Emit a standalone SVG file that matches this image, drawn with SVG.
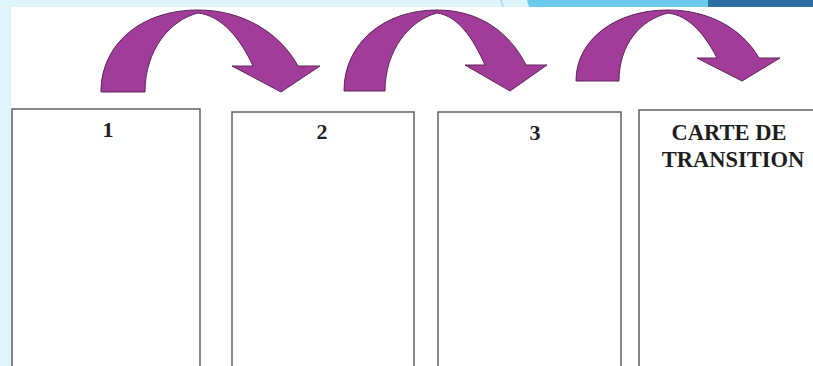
<svg xmlns="http://www.w3.org/2000/svg" width="813" height="366" viewBox="0 0 813 366">
<style>
.card{fill:#ffffff;stroke:#5f5f5f;stroke-width:1.5}
.lbl{font-family:"Liberation Serif","Times New Roman",serif;font-weight:bold;fill:#1e1e1e;text-anchor:middle}
.arrow{fill:#a23c9a;stroke:#5e2558;stroke-width:1;stroke-linejoin:round}
</style>
<rect x="0" y="0" width="813" height="366" fill="#dff4fb"/>
<rect x="11" y="7" width="802" height="359" fill="#ffffff"/>
<polygon points="527,0 708,0 708,7 529,7" fill="#6ccbec"/>
<rect x="708" y="0" width="105" height="7" fill="#2d70a1"/>
<line x1="501" y1="0" x2="503" y2="7" stroke="#9fd9ef" stroke-width="1.5"/>
<g id="box1"><rect class="card" x="12" y="109" width="188" height="270"/><text class="lbl" x="108" y="137" font-size="22">1</text></g>
<g id="box2"><rect class="card" x="232" y="112" width="182" height="270"/><text class="lbl" x="322" y="139" font-size="22">2</text></g>
<g id="box3"><rect class="card" x="438" y="112" width="183" height="270"/><text class="lbl" x="535" y="140" font-size="22">3</text></g>
<g id="box4"><rect class="card" x="639" y="110" width="190" height="270"/><text class="lbl" x="729" y="140" font-size="22.5">CARTE DE</text><text class="lbl" x="733" y="167" font-size="22.5">TRANSITION</text></g>
<g id="connectors">
<path class="arrow" d="M101,92 C101,45 140,10 198,10 C243,10 280,33 298,66 L320,66 L281,92 L232,66 L253,66 C240,38 222,16 198,13 C170,20 145,50 145,92 Z"/>
<path class="arrow" d="M344,91 C344,44 383,10 437,10 C480,10 510,33 526,65 L547,65 L510,91 L465,65 L485,65 C473,38 458,16 437,13 C410,20 385,50 385,91 Z"/>
<path class="arrow" d="M576,81 C576,40 615,10 668,10 C708,10 742,28 759,58 L780,58 L742,81 L697,58 L717,58 C705,35 690,16 668,13 C640,20 619,45 619,81 Z"/>
</g>
</svg>
